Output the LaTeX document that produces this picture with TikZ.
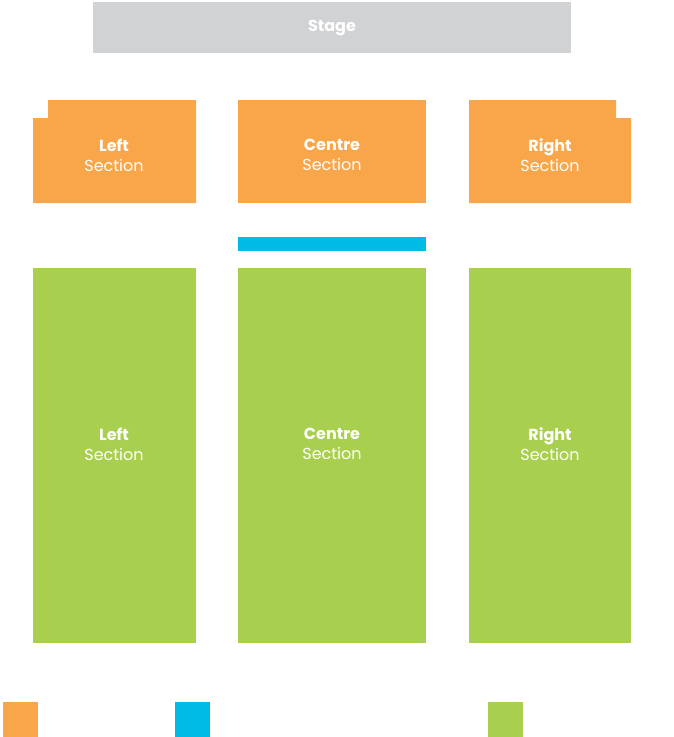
\documentclass[tikz,border=0pt]{standalone}
\usepackage{fontspec}
\setmainfont{Poppins}
\usetikzlibrary{positioning}
\definecolor{stagegray}{HTML}{D1D2D4}
\definecolor{seatorange}{HTML}{F9A64A}
\definecolor{seatgreen}{HTML}{A8CF4E}
\definecolor{seatblue}{HTML}{00BCE4}
\tikzset{every picture/.style={x=1pt,y=-1pt}}
\begin{document}
\begin{tikzpicture}[
    lbl/.style={text=white,align=center,font=\fontsize{16}{20}\selectfont},
    block/.style={draw=none,inner sep=0pt}
  ]
  \useasboundingbox (0,0) rectangle (674,737);

  % Stage.
  \fill[stagegray] (93,2) rectangle (571,53);
  \node[lbl] (stage) at (332,28) {\textbf{Stage}};

  % Front (orange) sections.
  \fill[seatorange] (48,100) -- (196,100) -- (196,203) -- (33,203)
    -- (33,118) -- (48,118) -- cycle;
  \fill[seatorange] (238,100) rectangle (426,203);
  \fill[seatorange] (469,100) -- (616,100) -- (616,118) -- (631,118)
    -- (631,203) -- (469,203) -- cycle;
  \node[lbl] (fl) at (114,155) {\textbf{Left}\\Section};
  \node[lbl] (fc) at (332,155) {\textbf{Centre}\\Section};
  \node[lbl] (fr) at (550,155) {\textbf{Right}\\Section};

  % Blue bar.
  \fill[seatblue] (238,237) rectangle (426,251);

  % Rear (green) sections.
  \fill[seatgreen] (33,268) rectangle (196,643);
  \fill[seatgreen] (238,268) rectangle (426,643);
  \fill[seatgreen] (469,268) rectangle (631,643);
  \node[lbl] (gl) at (114,444) {\textbf{Left}\\Section};
  \node[lbl] (gc) at (332,444) {\textbf{Centre}\\Section};
  \node[lbl] (gr) at (550,444) {\textbf{Right}\\Section};

  % Legend.
  \fill[seatorange] (3,702) rectangle (38,737);
  \fill[seatblue] (175,702) rectangle (210,737);
  \fill[seatgreen] (488,702) rectangle (523,737);
\end{tikzpicture}
\end{document}
